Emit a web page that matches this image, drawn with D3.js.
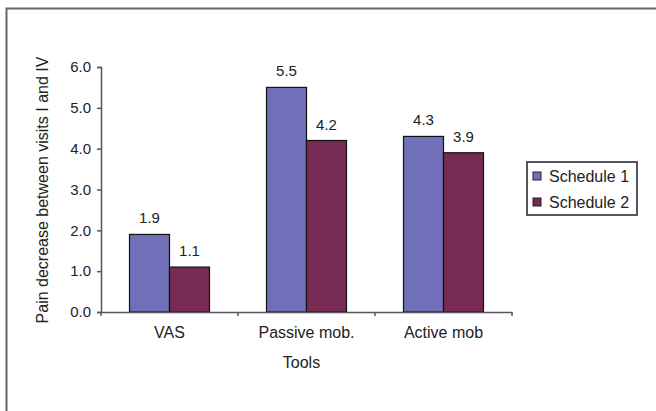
<!DOCTYPE html>
<html><head><meta charset="utf-8">
<script src="https://cdn.jsdelivr.net/npm/d3@7"></script>
<style>body{margin:0;background:#fff;} text{font-family:"Liberation Sans",Arial,sans-serif;}</style>
</head><body><svg id="c" width="656" height="411"></svg>
<script>
const categories = ["VAS", "Passive mob.", "Active mob"];
const seriesNames = ["Schedule 1", "Schedule 2"];
const schedule1 = [1.9, 5.5, 4.3];
const schedule2 = [1.1, 4.2, 3.9];
const yTicks = [0, 1, 2, 3, 4, 5, 6];
const colors = ["#7070b8", "#772a52"];

const svg = d3.select("#c");
svg.append("rect").attr("x", 6.5).attr("y", 8.5).attr("width", 700).attr("height", 500)
  .attr("fill", "none").attr("stroke", "#666").attr("stroke-width", 2);

const x0 = 101, x1 = 512, yTop = 67, yBot = 312;
const x = d3.scaleBand().domain(categories).range([x0, x1]).paddingInner(0).paddingOuter(0);
const xs = d3.scaleBand().domain(seriesNames).range([28.5, x.bandwidth() - 28.5]);
const y = d3.scaleLinear().domain([0, 6]).range([yBot, yTop]);

const data = categories.map((c, i) => ({cat: c, vals: [schedule1[i], schedule2[i]]}));

const g = svg.append("g");
data.forEach(d => {
  d.vals.forEach((v, j) => {
    const bx = x(d.cat) + xs(seriesNames[j]);
    g.append("rect").attr("x", bx).attr("y", y(v)).attr("width", xs.bandwidth()).attr("height", y(0) - y(v))
      .attr("fill", colors[j]).attr("stroke", "#111").attr("stroke-width", 1.2);
    g.append("text").attr("x", bx + xs.bandwidth() / 2).attr("y", y(v) - 11)
      .attr("text-anchor", "middle").attr("font-size", 15).attr("fill", "#222").text(v.toFixed(1));
  });
});

// y axis
const yAxis = d3.axisLeft(y).tickValues(yTicks).tickFormat(d => d.toFixed(1)).tickSize(4).tickPadding(6);
const ya = svg.append("g").attr("transform", `translate(${x0},0)`).call(yAxis);
ya.select(".domain").attr("stroke", "#556").attr("stroke-width", 1.5);
ya.selectAll(".tick line").attr("stroke", "#556").attr("stroke-width", 1.5);
ya.selectAll("text").attr("font-size", 15).attr("fill", "#222").attr("font-family", "Liberation Sans, Arial, sans-serif");

// x axis
const xAxis = d3.axisBottom(x).tickSize(0).tickPadding(15);
const xa = svg.append("g").attr("transform", `translate(0,${yBot})`).call(xAxis);
xa.select(".domain").attr("stroke", "#556").attr("stroke-width", 1.5);
xa.selectAll("text").attr("font-size", 16).attr("fill", "#222").attr("font-family", "Liberation Sans, Arial, sans-serif");
const bounds = categories.map(c => x(c)).concat([x1]);
xa.selectAll(".bnd").data(bounds).enter().append("line")
  .attr("x1", d => d).attr("x2", d => d).attr("y1", 0).attr("y2", 4)
  .attr("stroke", "#556").attr("stroke-width", 1.5);

svg.append("text").attr("x", (x0 + x1) / 2 - 5).attr("y", 368).attr("text-anchor", "middle")
  .attr("font-size", 16).attr("fill", "#222").text("Tools");
svg.append("text").attr("transform", `translate(48,190) rotate(-90)`)
  .attr("text-anchor", "middle").attr("font-size", 16).attr("fill", "#222").text("Pain decrease between visits I and IV");

// legend
const lg = svg.append("g");
lg.append("rect").attr("x", 527).attr("y", 162).attr("width", 110).attr("height", 53)
  .attr("fill", "#fff").attr("stroke", "#556").attr("stroke-width", 2);
seriesNames.forEach((s, j) => {
  const cy = 176 + j * 26;
  lg.append("rect").attr("x", 533).attr("y", cy - 4).attr("width", 8).attr("height", 8)
    .attr("fill", colors[j]).attr("stroke", "#222").attr("stroke-width", 1);
  lg.append("text").attr("x", 549).attr("y", cy + 6).attr("font-size", 16).attr("fill", "#222").text(s);
});
</script></body></html>
